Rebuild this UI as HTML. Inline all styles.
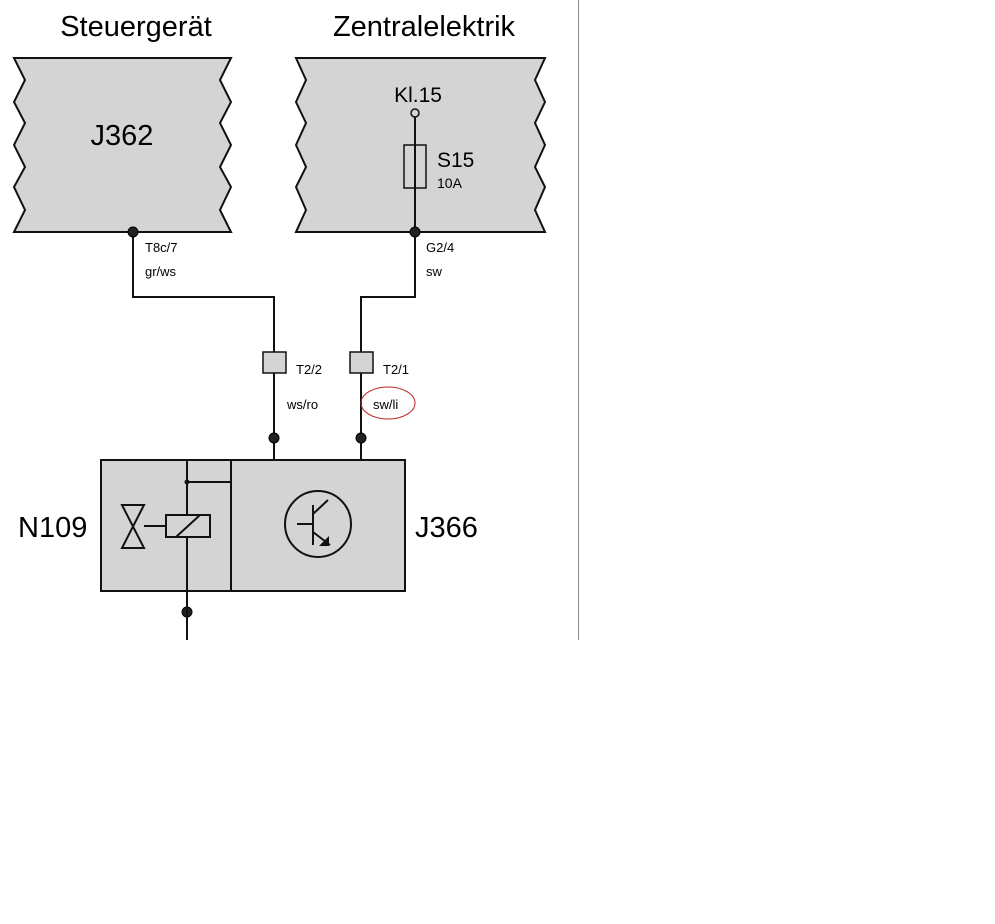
<!DOCTYPE html>
<html><head><meta charset="utf-8"><style>
html,body{margin:0;padding:0;background:#fff;width:995px;height:924px;overflow:hidden}
svg{display:block;font-family:"Liberation Sans",Arial,sans-serif}
</style></head><body>
<svg width="995" height="924" viewBox="0 0 995 924">
<line x1="578.5" y1="0" x2="578.5" y2="640" stroke="#888" stroke-width="1"/>
<text x="136" y="36" font-size="29" text-anchor="middle">Steuergerät</text>
<text x="424" y="36" font-size="29" text-anchor="middle">Zentralelektrik</text>
<g fill="#d4d4d4" stroke="#111" stroke-width="2" stroke-linejoin="miter">
<polygon points="14,58 231,58 220,80 231,102 220,123 231,145 220,167 231,187 220,210 231,232 14,232 25,210 14,187 25,167 14,145 25,123 14,102 25,80"/>
<polygon points="296,58 545,58 535,80 545,102 535,123 545,145 535,167 545,187 535,210 545,232 296,232 306,210 296,187 306,167 296,145 306,123 296,102 306,80"/>
</g>
<text x="122" y="145" font-size="29" text-anchor="middle">J362</text>
<text x="418" y="102" font-size="21" text-anchor="middle">Kl.15</text>
<circle cx="415" cy="113" r="4" fill="none" stroke="#111" stroke-width="1.5"/>
<line x1="415" y1="117" x2="415" y2="232" stroke="#111" stroke-width="2"/>
<rect x="404" y="145" width="22" height="43" fill="none" stroke="#111" stroke-width="1.5"/>
<text x="437" y="167" font-size="21">S15</text>
<text x="437" y="188" font-size="14">10A</text>
<g stroke="#111" stroke-width="2" fill="none">
<polyline points="133,232 133,297 274,297 274,460"/>
<polyline points="415,232 415,297 361,297 361,460"/>
</g>
<g font-size="13">
<text x="145" y="252">T8c/7</text><text x="145" y="276">gr/ws</text>
<text x="426" y="252">G2/4</text><text x="426" y="276">sw</text>
<text x="296" y="374">T2/2</text><text x="287" y="409">ws/ro</text>
<text x="383" y="374">T2/1</text><text x="373" y="409">sw/li</text>
</g>
<ellipse cx="388" cy="403" rx="27" ry="16" fill="none" stroke="#b22" stroke-width="1"/>
<g fill="#d4d4d4" stroke="#111" stroke-width="1.5">
<rect x="263" y="352" width="23" height="21"/>
<rect x="350" y="352" width="23" height="21"/>
</g>
<g fill="#222" stroke="#000" stroke-width="1">
<circle cx="133" cy="232" r="5"/><circle cx="415" cy="232" r="5"/>
<circle cx="274" cy="438" r="5"/><circle cx="361" cy="438" r="5"/>
<circle cx="187" cy="612" r="5"/>
</g>
<rect x="101" y="460" width="304" height="131" fill="#d4d4d4" stroke="#111" stroke-width="2"/>
<g stroke="#111" stroke-width="2" fill="none">
<line x1="231" y1="460" x2="231" y2="591"/>
<line x1="187" y1="460" x2="187" y2="640"/>
<line x1="187" y1="482" x2="231" y2="482"/>
<line x1="144" y1="526" x2="166" y2="526"/>
<rect x="166" y="515" width="44" height="22" fill="#d4d4d4"/>
<line x1="176" y1="537" x2="200" y2="515"/>
<polygon points="122,505 144,505 122,548 144,548"/>
<circle cx="318" cy="524" r="33"/>
<line x1="297" y1="524" x2="313" y2="524"/>
<line x1="313" y1="505" x2="313" y2="545"/>
<line x1="313" y1="514" x2="328" y2="500"/>
<line x1="313" y1="532" x2="330" y2="545"/>
</g>
<circle cx="187" cy="482" r="2.5" fill="#111"/>
<polygon points="319,546 329,546 329,536" fill="#111"/>
<text x="18" y="537" font-size="29">N109</text>
<text x="415" y="537" font-size="29">J366</text>
</svg>
</body></html>
